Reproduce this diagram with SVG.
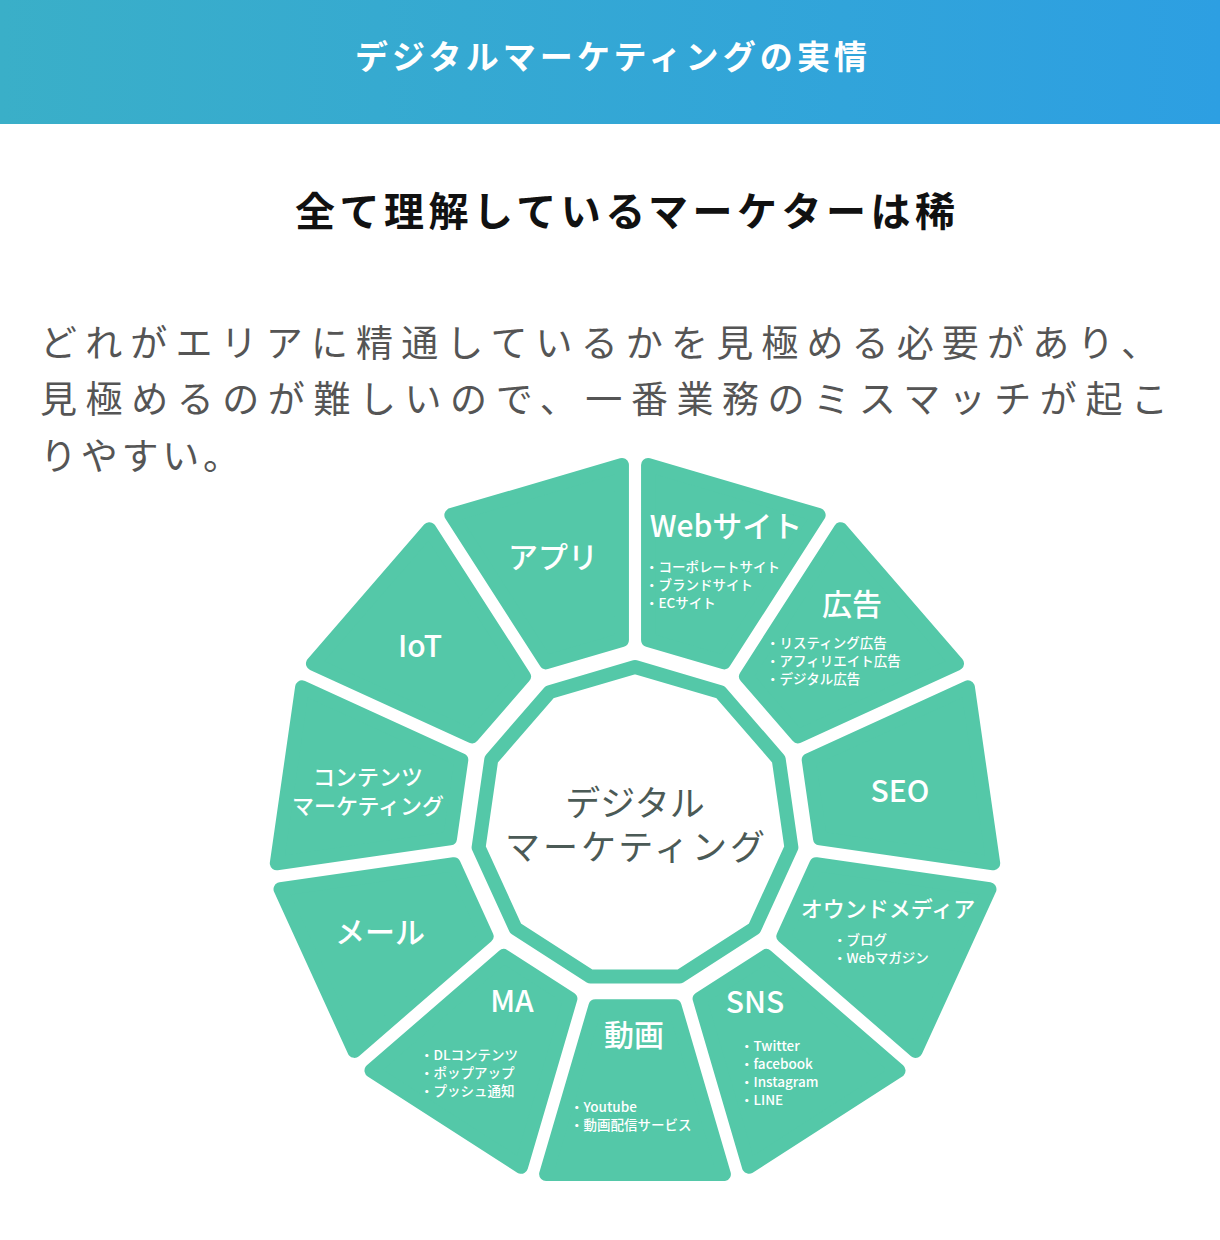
<svg xmlns="http://www.w3.org/2000/svg" xmlns:xlink="http://www.w3.org/1999/xlink" width="1220" height="1240" viewBox="0 0 1220 1240">
<defs>
<linearGradient id="hdr" x1="0" y1="0" x2="1" y2="0"><stop offset="0" stop-color="#3aafc8"/><stop offset="1" stop-color="#2d9fe2"/></linearGradient>
<path id="seg" d="M-39.6,181.2 L39.6,181.2 L88.9,349.1 L-88.9,349.1 Z"/>
<style>
.f{font-family:"Noto Sans CJK JP","Noto Sans",sans-serif}
.s{fill:#54c8a8;stroke:#54c8a8;stroke-width:14;stroke-linejoin:round}
.L{fill:#fff;font-size:30px;font-weight:500;text-anchor:middle;font-family:"Noto Sans CJK JP","Noto Sans",sans-serif}
.M{fill:#fff;font-size:22px;font-weight:500;text-anchor:middle;font-family:"Noto Sans CJK JP","Noto Sans",sans-serif}
.b{fill:#fff;font-size:13.5px;font-weight:500;font-family:"Noto Sans CJK JP","Noto Sans",sans-serif}
.p{fill:#555;font-size:37px;font-family:"Noto Sans CJK JP",sans-serif}
</style>
</defs>
<rect width="1220" height="1240" fill="#fff"/>
<rect width="1220" height="124" fill="url(#hdr)"/>
<text class="f" x="355" y="69" font-size="33" font-weight="bold" fill="#fff" textLength="512" lengthAdjust="spacing">デジタルマーケティングの実情</text>
<text class="f" x="295" y="226" font-size="40" font-weight="bold" fill="#111" textLength="660" lengthAdjust="spacing">全て理解しているマーケターは稀</text>
<text class="p" x="40" y="357" textLength="1118" lengthAdjust="spacing">どれがエリアに精通しているかを見極める必要があり、</text>
<text class="p" x="40" y="413" textLength="1128" lengthAdjust="spacing">見極めるのが難しいので、一番業務のミスマッチが起こ</text>
<text class="p" x="40" y="470" textLength="200" lengthAdjust="spacing">りやすい。</text>
<g id="ring"><polygon points="635.0,667.0 720.4,692.1 778.7,759.3 791.4,847.4 754.4,928.4 679.5,976.6 590.5,976.6 515.6,928.4 478.6,847.4 491.3,759.3 549.6,692.1" fill="#fff" stroke="#54c8a8" stroke-width="14" stroke-linejoin="round"/>
<text class="f" x="635" y="816" font-size="35" fill="#4b5a56" text-anchor="middle">デジタル</text>
<text class="f" x="635" y="860" font-size="35" fill="#4b5a56" text-anchor="middle" textLength="260" lengthAdjust="spacing">マーケティング</text></g>
<g id="douga"><use xlink:href="#seg" class="s" transform="translate(635,825)"/><text class="L" x="634" y="1046">動画</text><text class="b" x="570" y="1112">・Youtube</text><text class="b" x="570" y="1130">・動画配信サービス</text></g>
<g id="sns"><use xlink:href="#seg" class="s" transform="translate(635,825) rotate(-32.727)"/><text class="L" x="755" y="1013">SNS</text><text class="b" x="740" y="1051">・Twitter</text><text class="b" x="740" y="1069">・facebook</text><text class="b" x="740" y="1087">・Instagram</text><text class="b" x="740" y="1105">・LINE</text></g>
<g id="owned"><use xlink:href="#seg" class="s" transform="translate(635,825) rotate(-65.455)"/><text class="M" x="888" y="917">オウンドメディア</text><text class="b" x="833" y="945">・ブログ</text><text class="b" x="833" y="963">・Webマガジン</text></g>
<g id="seo"><use xlink:href="#seg" class="s" transform="translate(635,825) rotate(-98.182)"/><text class="L" x="900" y="802">SEO</text></g>
<g id="ad"><use xlink:href="#seg" class="s" transform="translate(635,825) rotate(-130.909)"/><text class="L" x="852" y="615">広告</text><text class="b" x="766" y="648">・リスティング広告</text><text class="b" x="766" y="666">・アフィリエイト広告</text><text class="b" x="766" y="684">・デジタル広告</text></g>
<g id="web"><use xlink:href="#seg" class="s" transform="translate(635,825) rotate(-163.636)"/><text class="L" x="726" y="537">Webサイト</text><text class="b" x="645" y="572">・コーポレートサイト</text><text class="b" x="645" y="590">・ブランドサイト</text><text class="b" x="645" y="608">・ECサイト</text></g>
<g id="app"><use xlink:href="#seg" class="s" transform="translate(635,825) rotate(163.636)"/><text class="L" x="553" y="568">アプリ</text></g>
<g id="iot"><use xlink:href="#seg" class="s" transform="translate(635,825) rotate(130.909)"/><text class="L" x="420" y="657">IoT</text></g>
<g id="content"><use xlink:href="#seg" class="s" transform="translate(635,825) rotate(98.182)"/><text class="M" x="368" y="785">コンテンツ</text><text class="M" x="368" y="814">マーケティング</text></g>
<g id="mail"><use xlink:href="#seg" class="s" transform="translate(635,825) rotate(65.455)"/><text class="L" x="380" y="943">メール</text></g>
<g id="ma"><use xlink:href="#seg" class="s" transform="translate(635,825) rotate(32.727)"/><text class="L" x="512" y="1012">MA</text><text class="b" x="420" y="1060">・DLコンテンツ</text><text class="b" x="420" y="1078">・ポップアップ</text><text class="b" x="420" y="1096">・プッシュ通知</text></g>
</svg>
